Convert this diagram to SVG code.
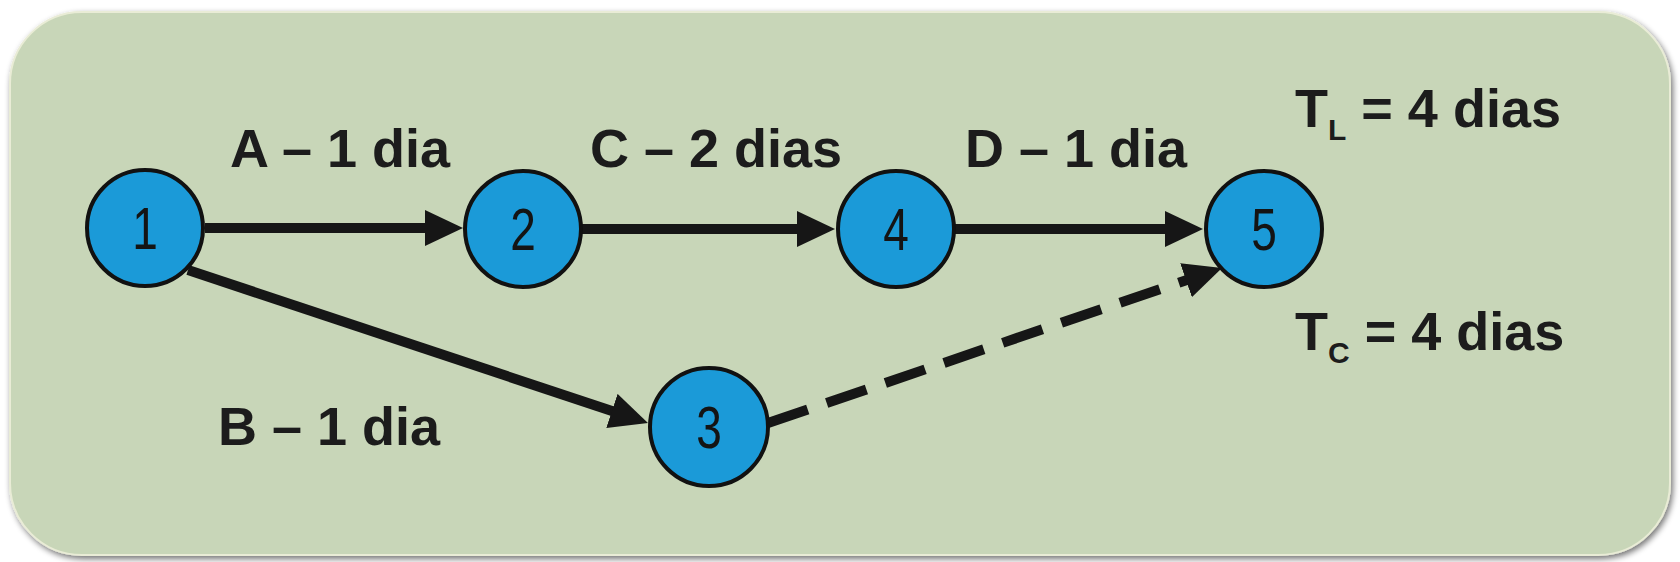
<svg xmlns="http://www.w3.org/2000/svg" width="1680" height="562" viewBox="0 0 1680 562">
  <style>
    .lbl { font-family: "Liberation Sans", Arial, sans-serif; font-weight: bold; font-size: 54px; fill: #1c1c1c; }
    .num { font-family: "Liberation Sans", Arial, sans-serif; font-size: 59px; fill: #141414; text-anchor: middle; }
    .node { fill: #1b9ad8; stroke: #111111; stroke-width: 4; }
    .edge { stroke: #161616; stroke-width: 10; fill: none; marker-end: url(#arrow); }
    .dash { stroke-dasharray: 42 20; }
  </style>
  <defs>
    <marker id="arrow" markerUnits="userSpaceOnUse" markerWidth="40" markerHeight="40" refX="8" refY="18" orient="auto">
      <path d="M0,0 L38,18 L0,36 z" fill="#161616"/>
    </marker>
    <filter id="shadow" x="-5%" y="-10%" width="110%" height="120%">
      <feGaussianBlur in="SourceAlpha" stdDeviation="3"/>
      <feOffset dx="2" dy="3" result="b"/>
      <feComponentTransfer><feFuncA type="linear" slope="0.55"/></feComponentTransfer>
      <feMerge><feMergeNode/><feMergeNode in="SourceGraphic"/></feMerge>
    </filter>
  </defs>
  <rect width="1680" height="562" fill="#ffffff"/>
  <g id="panel">
    <rect x="10" y="12" width="1660" height="543" rx="72" ry="72" fill="#c8d6b8" stroke="#e9ecd6" stroke-width="2" filter="url(#shadow)"/>
  </g>
  <g id="connectors">
    <line class="edge" x1="205" y1="228" x2="433" y2="228"/>
    <line class="edge" x1="582" y1="229" x2="805" y2="229"/>
    <line class="edge" x1="955" y1="229" x2="1173" y2="229"/>
    <line class="edge" x1="188" y1="270" x2="619.5" y2="413.5"/>
    <line class="edge dash" x1="768" y1="423" x2="1193.6" y2="277.7"/>
  </g>
  <g id="labels">
    <text class="lbl" x="230" y="167">A – 1 dia</text>
    <text class="lbl" x="590" y="167">C – 2 dias</text>
    <text class="lbl" x="965" y="167">D – 1 dia</text>
    <text class="lbl" x="218" y="445">B – 1 dia</text>
    <text class="lbl" x="1295" y="127">T<tspan font-size="30" dy="13">L</tspan><tspan dy="-13"> = 4 dias</tspan></text>
    <text class="lbl" x="1295" y="350">T<tspan font-size="30" dy="13">C</tspan><tspan dy="-13"> = 4 dias</tspan></text>
  </g>
  <g id="node1">
    <circle class="node" cx="145" cy="228" r="58"/>
    <text class="num" transform="translate(145,249) scale(0.78,1)">1</text>
  </g>
  <g id="node2">
    <circle class="node" cx="523" cy="229" r="58"/>
    <text class="num" transform="translate(523,250) scale(0.78,1)">2</text>
  </g>
  <g id="node4">
    <circle class="node" cx="896" cy="229" r="58"/>
    <text class="num" transform="translate(896,250) scale(0.78,1)">4</text>
  </g>
  <g id="node5">
    <circle class="node" cx="1264" cy="229" r="58"/>
    <text class="num" transform="translate(1264,250) scale(0.78,1)">5</text>
  </g>
  <g id="node3">
    <circle class="node" cx="709" cy="427" r="59"/>
    <text class="num" transform="translate(709,448) scale(0.78,1)">3</text>
  </g>
</svg>
